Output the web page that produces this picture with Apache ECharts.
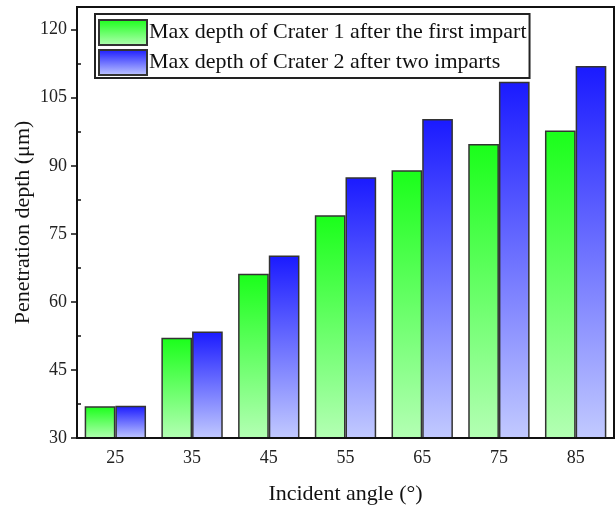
<!DOCTYPE html>
<html>
<head>
<meta charset="utf-8">
<script src="https://cdn.jsdelivr.net/npm/echarts@6/dist/echarts.min.js"></script>
<style>
html, body { margin: 0; padding: 0; background: #fff; }
#main { width: 616px; height: 510px; }
</style>
</head>
<body>
<div id="main"></div>
<script>
// 数据
var angles = ['25', '35', '45', '55', '65', '75', '85'];
var crater1Name = 'Max depth of Crater 1 after the first impart';
var crater2Name = 'Max depth of Crater 2 after two imparts';
var crater1 = [37.0, 52.1, 66.2, 79.1, 89.0, 94.8, 97.8];
var crater2 = [37.1, 53.5, 70.2, 87.5, 100.3, 108.5, 112.0];

var fontFamily = '"Liberation Serif", "DejaVu Serif", serif';

function grad(top, bottom) {
	return new echarts.graphic.LinearGradient(0, 0, 0, 1, [
		{ offset: 0, color: top },
		{ offset: 1, color: bottom }
	]);
}

var option = {
	animation: false,
	backgroundColor: '#fff',
	textStyle: { fontFamily: fontFamily },
	grid: {
		left: 77, right: 2, top: 7, bottom: 67,
		show: true, borderColor: '#111', borderWidth: 2
	},
	legend: {
		orient: 'vertical',
		left: 95, top: 14,
		padding: [5, 3, 2, 3],
		icon: 'rect',
		itemWidth: 48, itemHeight: 25, itemGap: 3,
		borderColor: '#222', borderWidth: 2,
		backgroundColor: '#fff',
		textStyle: { fontFamily: fontFamily, fontSize: 22, color: '#111', padding: [0, 0, 0, -3] },
		data: [crater1Name, crater2Name]
	},
	xAxis: [{
		type: 'category',
		data: angles,
		z: 5,
		name: 'Incident angle (°)',
		nameLocation: 'middle',
		nameGap: 45,
		nameMoveOverlap: false,
		nameTextStyle: { fontFamily: fontFamily, fontSize: 22, color: '#111' },
		axisLine: { lineStyle: { color: '#111', width: 2 } },
		axisTick: { inside: true, alignWithLabel: true, length: 5, lineStyle: { color: '#111', width: 2 } },
		axisLabel: { fontFamily: fontFamily, fontSize: 18, color: '#222', margin: 11 }
	}, {
		type: 'category',
		data: angles,
		position: 'bottom',
		z: 5,
		axisLine: { show: false },
		axisTick: { inside: true, length: 5, lineStyle: { color: '#111', width: 1.5 } },
		axisLabel: { show: false }
	}],
	yAxis: [{
		type: 'value',
		min: 30, max: 125, interval: 15,
		name: 'Penetration depth (μm)',
		nameLocation: 'middle',
		nameGap: 43,
		nameMoveOverlap: false,
		nameTextStyle: { fontFamily: fontFamily, fontSize: 22, color: '#111' },
		splitLine: { show: false },
		axisLine: { show: true, lineStyle: { color: '#111', width: 2 } },
		axisTick: { show: true, length: 6, lineStyle: { color: '#111', width: 1.5 } },
		axisLabel: { fontFamily: fontFamily, fontSize: 18, color: '#222', margin: 10, showMaxLabel: false }
	}, {
		// 次刻度朝内
		type: 'value',
		position: 'left',
		min: 30, max: 125, interval: 15,
		splitLine: { show: false },
		axisLine: { show: false },
		axisTick: { show: false, inside: true },
		minorTick: { show: true, splitNumber: 2, length: 4, lineStyle: { color: '#111', width: 1.5 } },
		axisLabel: { show: false }
	}],
	series: [{
		name: crater1Name,
		type: 'bar',
		data: crater1,
		barWidth: '40%',
		barGap: '0%',
		itemStyle: {
			color: grad('#1aff1a', '#b4ffb4'),
			borderColor: '#333', borderWidth: 1.5
		}
	}, {
		name: crater2Name,
		type: 'bar',
		data: crater2,
		barWidth: '40%',
		barGap: '0%',
		itemStyle: {
			color: grad('#1a1aff', '#c2caff'),
			borderColor: '#333', borderWidth: 1.5
		}
	}]
};

var myChart = echarts.init(document.getElementById('main'));
myChart.setOption(option);
</script>
</body>
</html>
